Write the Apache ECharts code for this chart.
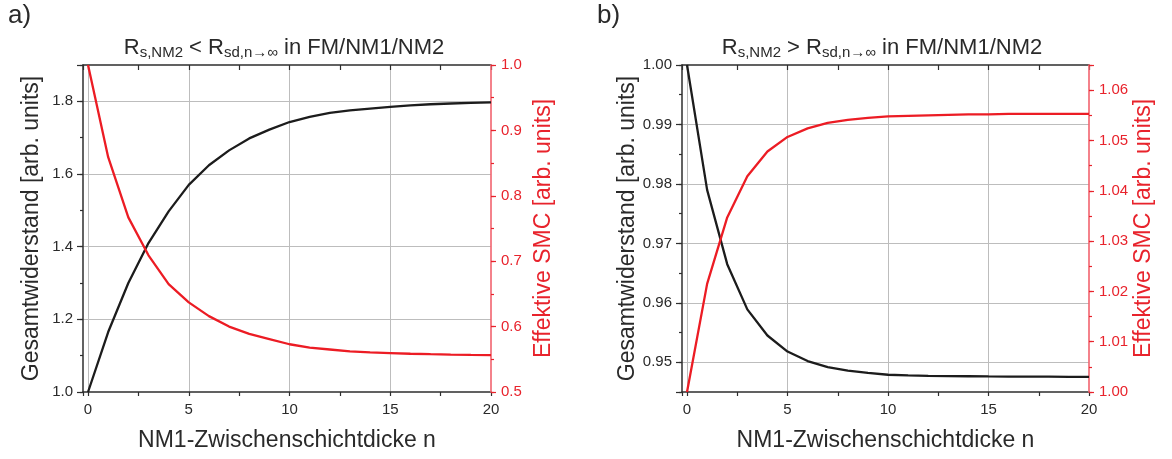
<!DOCTYPE html>
<html><head><meta charset="utf-8">
<script src="https://cdn.jsdelivr.net/npm/echarts@6/dist/echarts.min.js"></script>
<style>html,body{margin:0;padding:0;background:#fff}#c{width:1172px;height:459px}</style>
</head><body><div id="c"></div>
<script>
// ---- data ----
const nValues = [0,1,2,3,4,5,6,7,8,9,10,11,12,13,14,15,16,17,18,19,20];
const xTickLabels = [0,5,10,15,20];

// panel a) R_s,NM2 < R_sd
const aResistance = [1.000,1.165,1.300,1.410,1.497,1.570,1.624,1.665,1.698,1.722,1.743,1.757,1.768,1.775,1.780,1.785,1.789,1.792,1.794,1.796,1.797];
const aSMC        = [1.000,0.859,0.767,0.709,0.665,0.637,0.616,0.600,0.589,0.581,0.573,0.568,0.565,0.562,0.5605,0.5595,0.5585,0.5578,0.5572,0.5567,0.5564];
const aLeftTicks  = [1.0,1.2,1.4,1.6,1.8];
const aRightTicks = [0.5,0.6,0.7,0.8,0.9,1.0];

// panel b) R_s,NM2 > R_sd
const bResistance = [1.000,0.979,0.9665,0.9589,0.9545,0.9518,0.9502,0.9492,0.9486,0.9482,0.9479,0.9478,0.94772,0.94768,0.94765,0.94762,0.9476,0.94758,0.94757,0.94756,0.94755];
const bSMC        = [1.000,1.0215,1.0347,1.0429,1.0478,1.0507,1.0524,1.0535,1.0541,1.0545,1.0548,1.0549,1.0550,1.0551,1.0552,1.0552,1.0553,1.0553,1.0553,1.0553,1.0553];
const bLeftTicks  = [0.95,0.96,0.97,0.98,0.99,1.00];
const bRightTicks = [1.00,1.01,1.02,1.03,1.04,1.05,1.06];

const leftName  = 'Gesamtwiderstand [arb. units]';
const rightName = 'Effektive SMC [arb. units]';
const xName     = 'NM1-Zwischenschichtdicke n';

// ---- style ----
const FONT = '"Liberation Sans", Arial, Helvetica, sans-serif';
const GRAY = '#bdbdbd', AXIS = '#2e2e2e', RED_AXIS = '#f2636e', RED_TXT = '#e8232c',
      RED_LINE = '#ec1c24', BLACK_LINE = '#1c1c1c', TXT = '#2a2a2a';

const panels = [
  { grid:{left:83, top:65, width:408, height:327},
    left:{min:1.0, max:1.9, major:0.2, minor:0.1, ticks:aLeftTicks, dec:1},
    right:{min:0.5, max:1.0, major:0.1, minor:0.05, ticks:aRightTicks, dec:1},
    black:aResistance, red:aSMC },
  { grid:{left:682, top:65, width:407, height:327},
    left:{min:0.945, max:1.0, major:0.01, minor:0.005, ticks:bLeftTicks, dec:2},
    right:{min:1.0, max:1.065, major:0.01, minor:0.005, ticks:bRightTicks, dec:2},
    black:bResistance, red:bSMC }
];

const inList = (list, v) => list.some(t => Math.abs(t - v) < 1e-6);

const grids = [], xAxes = [], yAxes = [], series = [];
panels.forEach((p, gi) => {
  grids.push(Object.assign({containLabel:false}, p.grid));
  const xMin = -0.25, xMax = 20;
  // main bottom x axis
  const xMainIdx = xAxes.length;
  xAxes.push({ type:'value', gridIndex:gi, position:'bottom', min:xMin, max:xMax, minInterval:5, maxInterval:5,
    axisLine:{show:true, onZero:false, lineStyle:{color:AXIS, width:1.5}},
    axisTick:{show:false},
    axisLabel:{show:true, margin:10, color:TXT, fontSize:15, fontFamily:FONT,
      formatter:v => inList(xTickLabels, v) ? String(Math.round(v)) : ''},
    splitLine:{show:true, showMinLine:false, showMaxLine:false, lineStyle:{color:GRAY, width:1}},
    name:xName, nameLocation:'middle', nameGap:37,
    nameTextStyle:{fontSize:23, color:TXT, fontFamily:FONT} });
  // bottom ticks
  xAxes.push({ type:'value', gridIndex:gi, position:'bottom', min:xMin, max:xMax, minInterval:2.5, maxInterval:2.5,
    axisLine:{show:false, onZero:false}, axisLabel:{show:false}, splitLine:{show:false},
    axisTick:{show:true, inside:false, length:4, lineStyle:{color:AXIS, width:1.2}} });
  // top frame
  xAxes.push({ type:'value', gridIndex:gi, position:'top', min:xMin, max:xMax, minInterval:2.5, maxInterval:2.5,
    axisLine:{show:true, onZero:false, lineStyle:{color:AXIS, width:1.5}}, axisLabel:{show:false}, splitLine:{show:false},
    axisTick:{show:true, inside:true, length:5, lineStyle:{color:AXIS, width:1.2}} });

  // left main
  const yLeftIdx = yAxes.length;
  yAxes.push({ type:'value', gridIndex:gi, position:'left', min:p.left.min, max:p.left.max,
    minInterval:p.left.major, maxInterval:p.left.major,
    axisLine:{show:true, onZero:false, lineStyle:{color:AXIS, width:1.5}},
    axisTick:{show:true, inside:false, length:6, lineStyle:{color:AXIS, width:1.2}},
    axisLabel:{show:true, margin:10, color:TXT, fontSize:15, fontFamily:FONT,
      formatter:v => inList(p.left.ticks, v) ? v.toFixed(p.left.dec) : ''},
    splitLine:{show:true, showMinLine:false, showMaxLine:false, lineStyle:{color:GRAY, width:1}},
    name:leftName, nameLocation:'middle', nameGap:40,
    nameTextStyle:{fontSize:23, color:TXT, fontFamily:FONT} });
  yAxes.push({ type:'value', gridIndex:gi, position:'left', min:p.left.min, max:p.left.max,
    minInterval:p.left.minor, maxInterval:p.left.minor,
    axisLine:{show:false, onZero:false}, axisLabel:{show:false}, splitLine:{show:false},
    axisTick:{show:true, inside:false, length:3, lineStyle:{color:AXIS, width:1.2}} });
  // right main (red)
  const yRightIdx = yAxes.length;
  yAxes.push({ type:'value', gridIndex:gi, position:'right', min:p.right.min, max:p.right.max,
    minInterval:p.right.major, maxInterval:p.right.major, z:3,
    axisLine:{show:true, onZero:false, lineStyle:{color:RED_AXIS, width:1.6}},
    axisTick:{show:true, inside:false, length:5, lineStyle:{color:RED_TXT, width:1.2}},
    axisLabel:{show:true, margin:10, color:RED_TXT, fontSize:15, fontFamily:FONT,
      formatter:v => inList(p.right.ticks, v) ? v.toFixed(p.right.dec) : ''},
    splitLine:{show:false},
    name:rightName, nameLocation:'middle', nameGap:41,
    nameTextStyle:{fontSize:23, color:RED_TXT, fontFamily:FONT} });
  yAxes.push({ type:'value', gridIndex:gi, position:'right', min:p.right.min, max:p.right.max,
    minInterval:p.right.minor, maxInterval:p.right.minor, z:3,
    axisLine:{show:false, onZero:false}, axisLabel:{show:false}, splitLine:{show:false},
    axisTick:{show:true, inside:false, length:3, lineStyle:{color:RED_TXT, width:1.2}} });

  series.push({ type:'line', xAxisIndex:xMainIdx, yAxisIndex:yLeftIdx, showSymbol:false, symbol:'none',
    lineStyle:{color:BLACK_LINE, width:2.3}, data:nValues.map((n,i)=>[n, p.black[i]]), z:4 });
  series.push({ type:'line', xAxisIndex:xMainIdx, yAxisIndex:yRightIdx, showSymbol:false, symbol:'none',
    lineStyle:{color:RED_LINE, width:2.3}, data:nValues.map((n,i)=>[n, p.red[i]]), z:5 });
});

const richTitle = {
  R:{fontSize:22, fontWeight:'normal', color:TXT, fontFamily:FONT},
  s:{fontSize:15, fontWeight:'normal', color:TXT, fontFamily:FONT, padding:[9,0,0,0]}
};
const titles = [
  {text:'a)', left:8, top:3, padding:0, textStyle:{fontSize:26, fontWeight:'normal', color:TXT, fontFamily:FONT}},
  {text:'b)', left:597, top:3, padding:0, textStyle:{fontSize:26, fontWeight:'normal', color:TXT, fontFamily:FONT}},
  {text:'{R|R}{s|s,NM2}{R| < R}{s|sd,n\u2192\u221e}{R| in FM/NM1/NM2}', left:284, top:36, padding:0, textAlign:'center',
    textStyle:{fontWeight:'normal', rich:richTitle}},
  {text:'{R|R}{s|s,NM2}{R| > R}{s|sd,n\u2192\u221e}{R| in FM/NM1/NM2}', left:882, top:36, padding:0, textAlign:'center',
    textStyle:{fontWeight:'normal', rich:richTitle}}
];

const chart = echarts.init(document.getElementById('c'), null, {renderer:'canvas'});
chart.setOption({
  backgroundColor:'#fff',
  animation:false,
  title:titles,
  grid:grids, xAxis:xAxes, yAxis:yAxes, series:series
});
</script></body></html>
